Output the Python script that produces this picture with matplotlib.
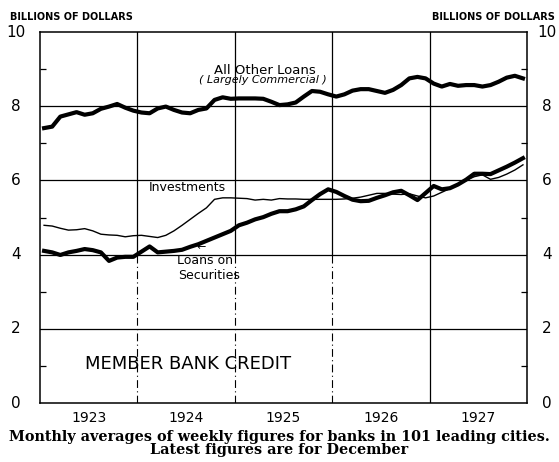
import matplotlib
matplotlib.use('Agg')
import matplotlib.pyplot as plt
import numpy as np

# Monthly figures, Jan 1923 - Dec 1927 (billions of dollars)
years = [1923, 1924, 1925, 1926, 1927]

all_other_loans = [
    7.41, 7.45, 7.72, 7.78, 7.84, 7.77, 7.81, 7.93, 7.99, 8.06, 7.96, 7.88,
    7.83, 7.81, 7.94, 7.99, 7.90, 7.83, 7.81, 7.90, 7.94, 8.17, 8.24, 8.20,
    8.21, 8.21, 8.21, 8.20, 8.12, 8.03, 8.05, 8.10, 8.26, 8.41, 8.39, 8.32,
    8.26, 8.32, 8.42, 8.46, 8.46, 8.41, 8.36, 8.44, 8.57, 8.75, 8.79, 8.75,
    8.61, 8.53, 8.60, 8.55, 8.57, 8.57, 8.53, 8.57, 8.66, 8.77, 8.82, 8.75,
]

investments = [
    4.79, 4.77, 4.71, 4.66, 4.67, 4.70, 4.64, 4.55, 4.53, 4.52, 4.48, 4.51,
    4.52, 4.49, 4.46, 4.52, 4.64, 4.79, 4.95, 5.11, 5.26, 5.49, 5.53, 5.53,
    5.52, 5.51, 5.47, 5.49, 5.47, 5.51, 5.50, 5.50, 5.49, 5.49, 5.49, 5.49,
    5.49, 5.50, 5.52, 5.55, 5.60, 5.65, 5.65, 5.63, 5.62, 5.64, 5.58, 5.53,
    5.58, 5.68, 5.78, 5.88, 6.00, 6.10, 6.15, 6.03, 6.08, 6.17, 6.28, 6.42,
]

loans_on_securities = [
    4.10, 4.06, 3.99, 4.06, 4.10, 4.15, 4.12, 4.06, 3.83, 3.92, 3.94, 3.94,
    4.08, 4.22, 4.06, 4.08, 4.10, 4.13, 4.21, 4.28, 4.37, 4.46, 4.55, 4.64,
    4.79, 4.86, 4.95, 5.01, 5.10, 5.17, 5.17, 5.22, 5.30, 5.47, 5.63, 5.76,
    5.69, 5.58, 5.48, 5.44, 5.45, 5.53, 5.60, 5.68, 5.72, 5.60, 5.47, 5.66,
    5.85, 5.76, 5.79, 5.89, 6.02, 6.18, 6.18, 6.17, 6.27, 6.37, 6.48, 6.60,
]

y_ticks = [0, 2, 4, 6, 8, 10]

# month midpoints on a year axis
x = 1923 + (np.arange(len(all_other_loans)) + 0.5) / 12

fig = plt.figure(figsize=(5.59, 4.62), dpi=100)
ax = fig.add_axes([0.0716, 0.1277, 0.8712, 0.803])

ax.plot(x, all_other_loans, color='black', lw=3.0, solid_joinstyle='round')
ax.plot(x, investments, color='black', lw=1.0)
ax.plot(x, loans_on_securities, color='black', lw=3.0, solid_joinstyle='round')

# grid: horizontal at even values, vertical at year boundaries
for v in [2, 4, 6, 8]:
    ax.axhline(v, color='black', lw=0.9, zorder=0)
for b in [1924, 1925, 1926]:
    ax.plot([b, b], [4, 10], color='black', lw=0.9, zorder=0)
    ax.plot([b, b], [0, 4], color='black', lw=0.8, ls=(0, (7, 3, 1, 3)), zorder=0)
ax.axvline(1927, color='black', lw=0.9, zorder=0)

ax.set_xlim(1923, 1928)
ax.set_ylim(0, 10)

for s in ax.spines.values():
    s.set_linewidth(1.1)

ax.set_xticks([y + 0.5 for y in years])
ax.set_xticklabels([str(y) for y in years], fontsize=10)
ax.tick_params(axis='x', length=0, pad=6)

# y labels on both sides, centred in the margins
ax.set_yticks(y_ticks)
ax.set_yticklabels([])
ax.tick_params(axis='y', length=0)
ax.set_yticks([1, 3, 5, 7, 9], minor=True)
ax.tick_params(axis='y', which='minor', direction='in', length=4, width=0.9,
               left=True, right=True)
ytr = ax.get_yaxis_transform()
for v in y_ticks:
    ax.text(-0.049, v, str(v), transform=ytr, ha='center', va='center', fontsize=11)
    ax.text(1.041, v, str(v), transform=ytr, ha='center', va='center', fontsize=11)

ax.text(1925.31, 8.97, 'All Other Loans', ha='center', va='center', fontsize=9.5)
ax.text(1925.29, 8.70, '( Largely Commercial )', ha='center', va='center',
        fontsize=8, style='italic')
ax.text(1924.51, 5.8, 'Investments', ha='center', va='center', fontsize=9)
ax.text(1924.65, 4.2, '\u2190', ha='center', va='center', fontsize=8)
ax.text(1924.69, 3.85, 'Loans on', ha='center', va='center', fontsize=9)
ax.text(1924.74, 3.45, 'Securities', ha='center', va='center', fontsize=9)
ax.text(1924.52, 1.06, 'MEMBER BANK CREDIT', ha='center', va='center', fontsize=13)

fig.text(0.018, 0.963, 'BILLIONS OF DOLLARS', ha='left', va='center',
         fontsize=7, fontweight='bold')
fig.text(0.993, 0.963, 'BILLIONS OF DOLLARS', ha='right', va='center',
         fontsize=7, fontweight='bold')

fig.text(0.5, 0.054, 'Monthly averages of weekly figures for banks in 101 leading cities.',
         ha='center', va='center', fontsize=10.4, family='DejaVu Serif', fontweight='bold')
fig.text(0.5, 0.025, 'Latest figures are for December',
         ha='center', va='center', fontsize=10.4, family='DejaVu Serif', fontweight='bold')

fig.savefig('out.png', dpi=100)
